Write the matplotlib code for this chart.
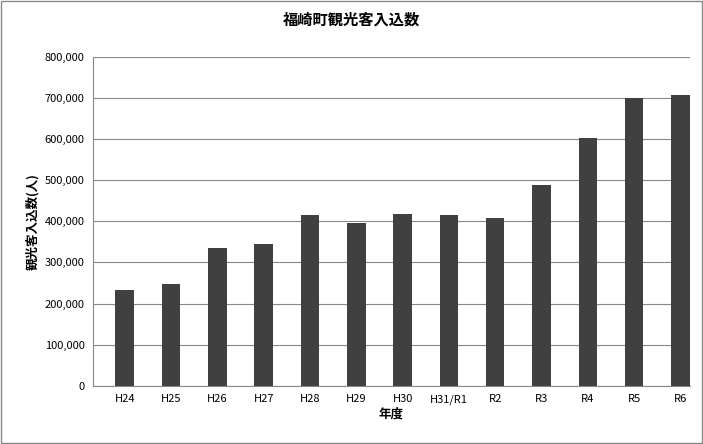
import matplotlib
matplotlib.use("Agg")
import matplotlib.pyplot as plt
from matplotlib.ticker import FuncFormatter, MultipleLocator

plt.rcParams['font.family'] = ['Noto Sans CJK JP', 'DejaVu Sans']

years = ["H24","H25","H26","H27","H28","H29","H30","H31/R1","R2","R3","R4","R5","R6"]
visitors = [233000,248000,336000,345000,415000,396000,418000,415000,408000,489000,603000,700000,708000]

fig = plt.figure(figsize=(7.03,4.44), dpi=100)
ax = fig.add_axes([0.132,0.131,0.849,0.741])
ax.bar(range(len(years)), visitors, width=0.4, color='#404040', zorder=3)
ax.set_xlim(-0.69, 12.2)
ax.set_ylim(0, 800000)
ax.yaxis.set_major_locator(MultipleLocator(100000))
ax.yaxis.set_major_formatter(FuncFormatter(lambda v,p: f"{int(v):,}"))
ax.set_xticks(range(len(years)))
ax.set_xticklabels(years, fontsize=8)
ax.tick_params(axis='y', labelsize=8, length=0, pad=6)
ax.tick_params(axis='x', length=0, pad=6)
ax.grid(axis='y', color='#888888', linewidth=0.8, zorder=0)
for s in ['top','right']:
    ax.spines[s].set_visible(False)
ax.spines['left'].set_color('#888888')
ax.spines['bottom'].set_color('#888888')
ax.set_xlabel("年度", fontsize=9, fontweight='bold', labelpad=2)
ax.set_ylabel("観光客入込数(人)", fontsize=9, fontweight='bold', labelpad=4)
fig.suptitle("福崎町観光客入込数", fontsize=11, fontweight='bold', y=0.975)
fig.patches.append(plt.Rectangle((0.002,0.002),0.996,0.996, transform=fig.transFigure, fill=False, edgecolor='#888888', linewidth=1))
fig.savefig("out.png", dpi=100)
